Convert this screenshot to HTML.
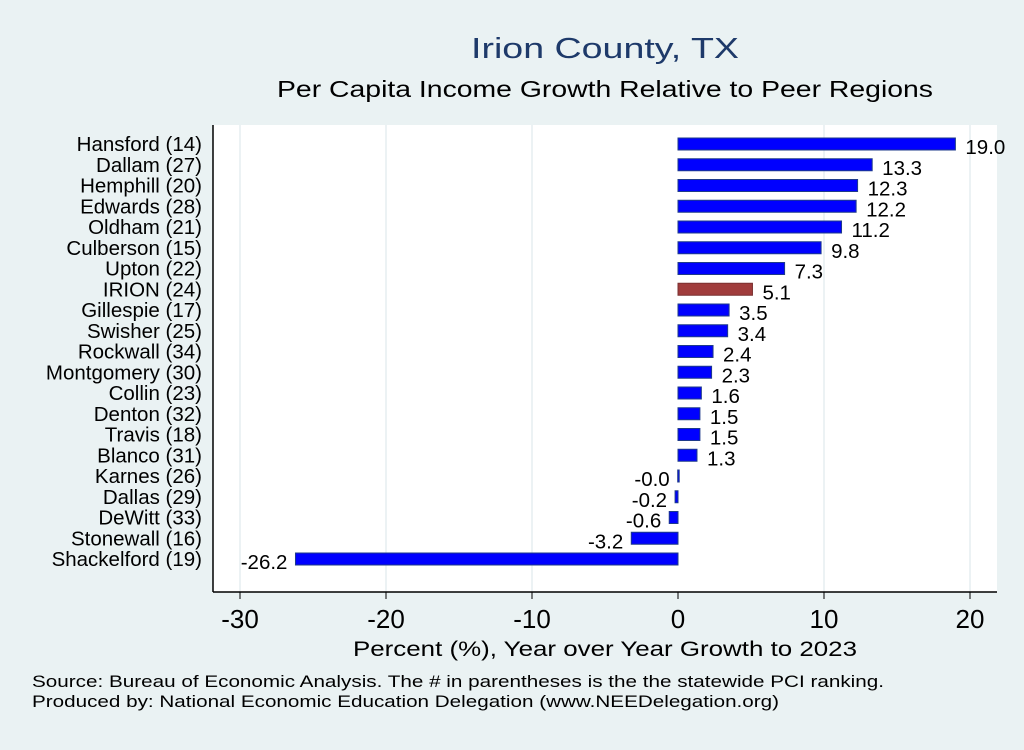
<!DOCTYPE html>
<html><head><meta charset="utf-8"><style>
body{margin:0;background:#eaf2f3;font-family:"Liberation Sans",Arial,sans-serif}
svg text{font-family:"Liberation Sans",Arial,sans-serif}
</style></head><body>
<svg width="1024" height="745" id="c">
<rect x="0" y="0" width="1024" height="745" fill="#eaf2f3"/>
<text x="471" y="58" font-size="29" fill="#1e3a6a" textLength="268" lengthAdjust="spacingAndGlyphs">Irion County, TX</text>
<text x="277" y="97" font-size="23" fill="#000" textLength="656" lengthAdjust="spacingAndGlyphs">Per Capita Income Growth Relative to Peer Regions</text>
<rect x="213" y="125" width="784" height="467" fill="#fff"/>
<g id="grid"></g><g id="bars"></g>
<line x1="213" y1="125" x2="213" y2="592" stroke="#000" stroke-width="1.5"/>
<line x1="213" y1="592" x2="997" y2="592" stroke="#000" stroke-width="1.5"/>
<g id="ticks"></g>
<text x="353" y="656" font-size="21" textLength="504" lengthAdjust="spacingAndGlyphs">Percent (%), Year over Year Growth to 2023</text>
<text x="32" y="687" font-size="17" textLength="852" lengthAdjust="spacingAndGlyphs">Source: Bureau of Economic Analysis. The # in parentheses is the the statewide PCI ranking.</text>
<text x="32" y="707" font-size="17" textLength="747" lengthAdjust="spacingAndGlyphs">Produced by: National Economic Education Delegation (www.NEEDelegation.org)</text>
</svg>
<script>
const categories=["Hansford (14)","Dallam (27)","Hemphill (20)","Edwards (28)","Oldham (21)","Culberson (15)","Upton (22)","IRION (24)","Gillespie (17)","Swisher (25)","Rockwall (34)","Montgomery (30)","Collin (23)","Denton (32)","Travis (18)","Blanco (31)","Karnes (26)","Dallas (29)","DeWitt (33)","Stonewall (16)","Shackelford (19)"];
const values=[19.0,13.3,12.3,12.2,11.2,9.8,7.3,5.1,3.5,3.4,2.4,2.3,1.6,1.5,1.5,1.3,-0.02,-0.2,-0.6,-3.2,-26.2];
const labels=["19.0","13.3","12.3","12.2","11.2","9.8","7.3","5.1","3.5","3.4","2.4","2.3","1.6","1.5","1.5","1.3","-0.0","-0.2","-0.6","-3.2","-26.2"];
const highlight="IRION (24)";
const ticks=[-30,-20,-10,0,10,20];
const NS="http://www.w3.org/2000/svg";
const x=v=>678+v*14.6;
const y=i=>144+i*20.75;
function mk(t,a,p){const e=document.createElementNS(NS,t);for(const k in a)e.setAttribute(k,a[k]);p.appendChild(e);return e;}
const G=document.getElementById('grid'),B=document.getElementById('bars'),T=document.getElementById('ticks');
ticks.forEach(t=>{
 if(t!==0){const g=mk('line',{x1:x(t),x2:x(t),y1:125,y2:592,stroke:'#e6eef0','stroke-width':1.5},G);
 
 }
 const l=mk('line',{x1:x(t),x2:x(t),y1:592,y2:599,stroke:'#000'},T);
 
 
 const tx=mk('text',{x:x(t),y:628,'font-size':26,'text-anchor':'middle'},T);tx.textContent=t;
 
 
});
categories.forEach((c,i)=>{
 const v=values[i],x0=Math.min(x(0),x(v)),w=Math.max(Math.abs(x(v)-x(0)),1.5);
 const hl=c===highlight;
 const r=mk('rect',{x:x0,y:y(i)-6,width:w,height:12,fill:hl?'#a03c3c':'#0000ff',stroke:hl?'#7a3030':'#1e3a8a','stroke-width':1},B);
 
 
 const cl=mk('text',{x:202,y:y(i)+7,'font-size':20.5,'text-anchor':'end'},B);cl.textContent=c;
 
 
 const vl=mk('text',{x:v>=0?x(v)+10:x(v)-8,y:y(i)+10,'font-size':20.5,'text-anchor':v>=0?'start':'end'},B);vl.textContent=labels[i];
 
 
});
</script>
</body></html>
